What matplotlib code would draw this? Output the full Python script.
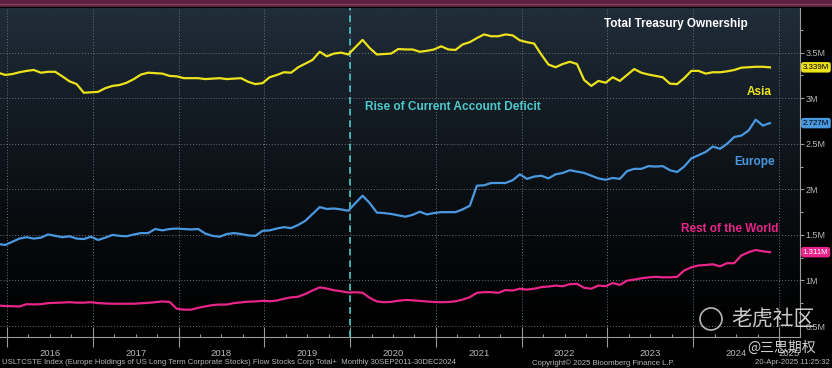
import numpy as np
import matplotlib
matplotlib.use("Agg")
import matplotlib.pyplot as plt
from matplotlib.patches import Rectangle, Ellipse
from matplotlib.ticker import FixedLocator, MultipleLocator

# monthly holdings, Dec-2015 .. Dec-2024 (millions)
asia = [3.28, 3.256, 3.265, 3.285, 3.30, 3.31, 3.28, 3.29, 3.29, 3.24,
        3.185, 3.155, 3.06, 3.065, 3.07, 3.11, 3.135, 3.145, 3.17, 3.21,
        3.26, 3.28, 3.275, 3.27, 3.245, 3.24, 3.22, 3.22, 3.22, 3.21,
        3.215, 3.22, 3.21, 3.215, 3.22, 3.18, 3.155, 3.165, 3.23, 3.255,
        3.285, 3.28, 3.34, 3.38, 3.42, 3.51, 3.46, 3.49, 3.50, 3.48,
        3.56, 3.64, 3.55, 3.48, 3.485, 3.49, 3.54, 3.535, 3.535, 3.51,
        3.52, 3.535, 3.57, 3.535, 3.53, 3.59, 3.615, 3.66, 3.70, 3.68,
        3.68, 3.70, 3.69, 3.635, 3.615, 3.60, 3.48, 3.37, 3.34, 3.375,
        3.40, 3.375, 3.20, 3.135, 3.19, 3.17, 3.23, 3.19, 3.255, 3.32,
        3.28, 3.26, 3.245, 3.23, 3.16, 3.155, 3.22, 3.30, 3.30, 3.27,
        3.285, 3.285, 3.295, 3.31, 3.335, 3.34, 3.345, 3.345, 3.339]

europe = [1.40, 1.39, 1.425, 1.46, 1.475, 1.46, 1.47, 1.505, 1.49, 1.475,
          1.485, 1.46, 1.455, 1.48, 1.445, 1.47, 1.50, 1.49, 1.485, 1.505,
          1.52, 1.52, 1.565, 1.55, 1.565, 1.57, 1.565, 1.56, 1.565, 1.515,
          1.49, 1.48, 1.51, 1.52, 1.51, 1.495, 1.49, 1.545, 1.55, 1.57,
          1.585, 1.575, 1.61, 1.655, 1.73, 1.805, 1.785, 1.79, 1.78, 1.765,
          1.85, 1.93, 1.85, 1.745, 1.74, 1.73, 1.715, 1.70, 1.72, 1.755,
          1.725, 1.74, 1.75, 1.75, 1.75, 1.78, 1.82, 2.04, 2.045, 2.07,
          2.07, 2.07, 2.10, 2.165, 2.115, 2.14, 2.15, 2.12, 2.165, 2.18,
          2.21, 2.195, 2.18, 2.15, 2.12, 2.105, 2.125, 2.115, 2.20, 2.225,
          2.225, 2.255, 2.25, 2.255, 2.21, 2.19, 2.25, 2.34, 2.375, 2.41,
          2.47, 2.445, 2.50, 2.575, 2.59, 2.645, 2.765, 2.70, 2.727]

rest_of_world = [0.725, 0.72, 0.718, 0.715, 0.74, 0.738, 0.74, 0.752, 0.755, 0.758,
                 0.762, 0.757, 0.757, 0.762, 0.752, 0.748, 0.745, 0.745, 0.745, 0.745,
                 0.75, 0.755, 0.762, 0.77, 0.765, 0.69, 0.68, 0.68, 0.70, 0.716,
                 0.73, 0.736, 0.736, 0.752, 0.76, 0.768, 0.77, 0.777, 0.772, 0.78,
                 0.80, 0.815, 0.822, 0.853, 0.89, 0.925, 0.912, 0.893, 0.882, 0.868,
                 0.871, 0.866, 0.81, 0.77, 0.762, 0.765, 0.778, 0.786, 0.783, 0.776,
                 0.77, 0.764, 0.762, 0.764, 0.772, 0.79, 0.817, 0.865, 0.872, 0.872,
                 0.865, 0.895, 0.89, 0.91, 0.90, 0.91, 0.927, 0.934, 0.944, 0.937,
                 0.96, 0.963, 0.92, 0.91, 0.945, 0.937, 0.972, 0.952, 0.998, 1.01,
                 1.024, 1.034, 1.04, 1.035, 1.035, 1.04, 1.11, 1.145, 1.165, 1.17,
                 1.178, 1.155, 1.19, 1.19, 1.275, 1.31, 1.335, 1.32, 1.311]

years = [2016, 2017, 2018, 2019, 2020, 2021, 2022, 2023, 2024]
ytick_values = [0.5, 1.0, 1.5, 2.0, 2.5, 3.0, 3.5]
ytick_labels = ["0.5M", "1M", "1.5M", "2M", "2.5M", "3M", "3.5M"]

YELLOW = "#ece21c"
BLUE = "#4a98e0"
PINK = "#e8258a"
CYAN = "#4cc9c9"
GREY = "#b8b8b8"
BOLD = "Liberation Sans"

# decimal year of each monthly point
t = 2015.895 + np.arange(len(asia)) / 12.0

fig = plt.figure(figsize=(8.32, 3.68), dpi=100, facecolor="black")
ax = fig.add_axes([0.0, 31 / 368, 800 / 832, 329 / 368])
ax.set_facecolor("black")
x0, x1 = 2015.918, 2025.245
y0, y1 = 0.38, 3.99
ax.set_xlim(x0, x1)
ax.set_ylim(y0, y1)

# dark slate -> black gradient background
grad = np.linspace(0, 1, 256).reshape(-1, 1) ** 1.3
top_rgb = np.array([0x20, 0x2d, 0x3a]) / 255.0
img = grad[:, :, None] * top_rgb[None, None, :]
ax.imshow(img, extent=[x0, x1, y0, y1], aspect="auto", origin="lower", zorder=0)

# grid
for yr in range(2016, 2026):
    ax.axvline(yr, color="#6a737c", lw=0.7, ls=(0, (1, 2)), zorder=1)
for v in ytick_values:
    ax.axhline(v, color="#6a737c", lw=0.7, ls=(0, (1, 2)), zorder=1)

ax.plot(t, asia, color=YELLOW, lw=1.6, zorder=3)
ax.plot(t, europe, color=BLUE, lw=1.6, zorder=3)
ax.plot(t, rest_of_world, color=PINK, lw=1.6, zorder=3)

ax.axvline(2020, color=CYAN, lw=1.2, ls=(0, (4, 3)), zorder=2)

# axes styling
for s in ["top", "left"]:
    ax.spines[s].set_visible(False)
for s in ["right", "bottom"]:
    ax.spines[s].set_color("#9a9a9a")
    ax.spines[s].set_linewidth(0.8)
ax.yaxis.tick_right()
ax.set_yticks(ytick_values)
ax.set_yticklabels(ytick_labels)
ax.yaxis.set_minor_locator(MultipleLocator(0.25))
ax.tick_params(axis="y", which="major", colors="#9a9a9a", labelcolor=GREY,
               labelsize=6.5, length=3, width=0.8, pad=1)
ax.tick_params(axis="y", which="minor", colors="#9a9a9a", length=2, width=0.8)
for lab in ax.get_yticklabels():
    lab.set_fontfamily(BOLD)

ax.set_xticks(range(2016, 2026))
ax.set_xticklabels([])
ax.xaxis.set_minor_locator(FixedLocator([yr + q / 4 for yr in range(2015, 2026) for q in (1, 2, 3)]))
ax.tick_params(axis="x", which="major", direction="inout", length=14, colors="#9a9a9a", width=0.8)
ax.tick_params(axis="x", which="minor", direction="in", length=2, colors="#9a9a9a", width=0.8)

for yr in years:
    ax.text(yr + 0.5, -0.05, str(yr), transform=ax.get_xaxis_transform(),
            ha="center", va="center", color=GREY, fontsize=6.8, family=BOLD)
ax.text(2025.12, -0.05, "2025", transform=ax.get_xaxis_transform(),
        ha="center", va="center", color=GREY, fontsize=6.8, family=BOLD)

# annotations
ax.text(2023.80, 3.81, "Total Treasury Ownership", color="white", fontsize=8.5,
        fontweight="bold", family=BOLD, ha="center", va="center")
ax.text(2024.77, 3.07, "Asia", color=YELLOW, fontsize=8.5, fontweight="bold",
        family=BOLD, ha="center", va="center")
ax.text(2024.72, 2.30, "Europe", color=BLUE, fontsize=8.5, fontweight="bold",
        family=BOLD, ha="center", va="center")
ax.text(2024.43, 1.566, "Rest of the World", color=PINK, fontsize=8.5, fontweight="bold",
        family=BOLD, ha="center", va="center")
ax.text(2021.20, 2.907, "Rise of Current Account Deficit", color=CYAN, fontsize=8.6,
        fontweight="bold", family=BOLD, ha="center", va="center")

# last-value tags on the right axis
for vals, col, tc in [(asia, YELLOW, "black"), (europe, BLUE, "black"), (rest_of_world, PINK, "white")]:
    ax.text(1.0035, vals[-1], f"{vals[-1]:.3f}M", transform=ax.get_yaxis_transform(),
            ha="left", va="center", fontsize=5.7, color=tc, family=BOLD, zorder=5,
            bbox=dict(boxstyle="round,pad=0.22,rounding_size=0.3", fc=col, ec="none"))

# top strip
fig.patches.append(Rectangle((0, 1 - 7 / 368), 1, 7 / 368, transform=fig.transFigure,
                             fc="#5c2040", ec="none"))
fig.lines.append(plt.Line2D([0, 1], [1 - 3.5 / 368] * 2, transform=fig.transFigure,
                            color="#9a4a70", lw=0.6))

# footer
fig.text(2 / 832, 5 / 368, "USLTCSTE Index (Europe Holdings of US Long Term Corporate Stocks) "
         "Flow Stocks Corp Total+  Monthly 30SEP2011-30DEC2024",
         color=GREY, fontsize=5.6, family=BOLD, ha="left", va="center")
fig.text(603 / 832, 5 / 368, "Copyright\u00a9 2025 Bloomberg Finance L.P.",
         color=GREY, fontsize=5.6, family=BOLD, ha="center", va="center")
fig.text(830 / 832, 5 / 368, "20-Apr-2025 11:25:32",
         color=GREY, fontsize=5.6, family=BOLD, ha="right", va="center")

# watermark
cjk = ["Noto Sans CJK SC", "DejaVu Sans"]
fig.patches.append(Ellipse((711 / 832, 1 - 319 / 368), 22 / 832, 22 / 368,
                           transform=fig.transFigure, fc="none", ec="#d8d8d8", lw=1.2, alpha=0.85))
fig.text(773 / 832, 1 - 319 / 368, "老虎社区", color="#e0e0e0", fontsize=15, family=cjk,
         ha="center", va="center", alpha=0.9)
fig.text(782 / 832, 1 - 348 / 368, "@三思期权", color="#e8e8e8", fontsize=10, family=cjk,
         ha="center", va="center", alpha=0.9)

fig.savefig("out.png", dpi=100, facecolor="black")
